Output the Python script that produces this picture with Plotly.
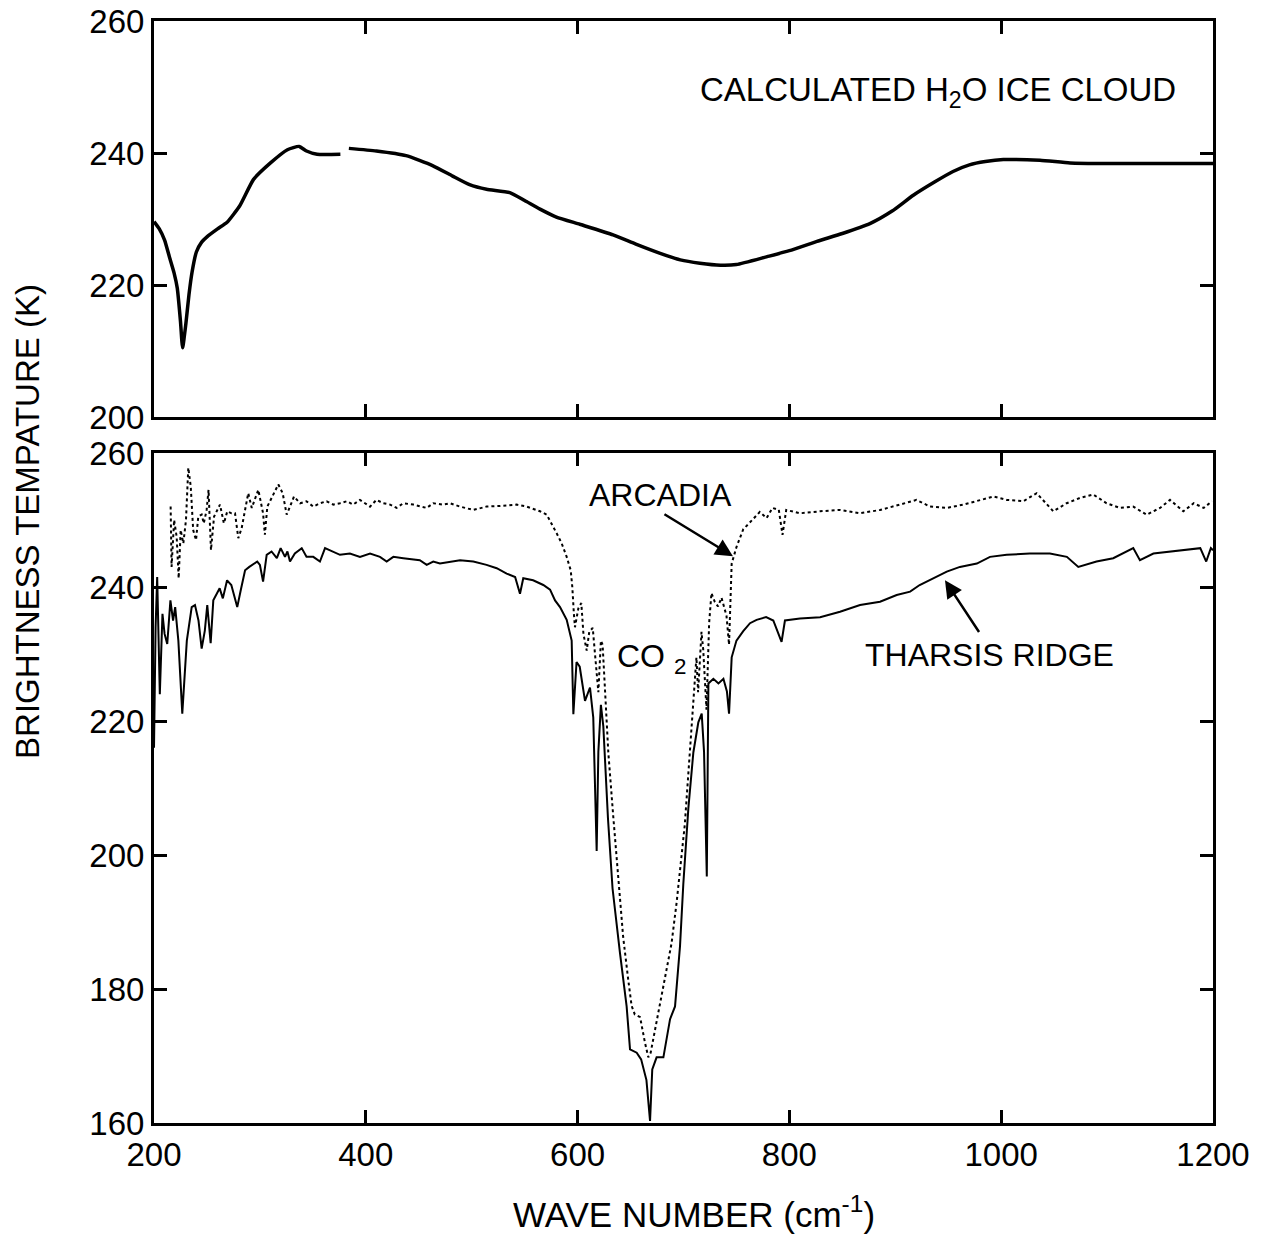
import plotly.graph_objects as go

# ---- Calculated H2O ice cloud spectrum (upper panel) ----
cloud_wn = [200, 205, 210, 215, 219, 222, 225, 227, 230, 233, 236, 240, 245, 250, 260,
            269, 281, 294, 310, 326, 337, 344, 354, 376, None, 384, 410, 438, 463, 482,
            498, 514, 536, 550, 564.5, 580, 602, 633.5, 655, 678, 697, 715.5, 735, 750,
            779, 800, 826, 850, 876, 897, 917, 937, 954.5, 970, 985, 1002, 1036.6, 1065,
            1100, 1150, 1200]
cloud_tb = [229.6, 228.5, 226.8, 224.0, 221.8, 219.5, 214.5, 210.5, 214.0, 218.5, 222.0,
            225.0, 226.5, 227.3, 228.5, 229.5, 232.0, 236.0, 238.5, 240.5, 241.0, 240.3,
            239.8, 239.8, None, 240.7, 240.3, 239.6, 238.1, 236.5, 235.2, 234.5, 234.0,
            232.8, 231.5, 230.3, 229.2, 227.6, 226.2, 224.8, 223.8, 223.3, 223.0, 223.1,
            224.3, 225.2, 226.6, 227.8, 229.3, 231.2, 233.6, 235.6, 237.2, 238.2, 238.7,
            239.0, 238.9, 238.5, 238.4, 238.4, 238.4]

# ---- Observed spectrum: Tharsis Ridge (solid) ----
tharsis_wn = [200, 201.5, 203, 205.5, 208, 210, 212.5, 215.5, 218, 220, 223, 226.7, 231,
              235.6, 238.7, 242, 245, 248, 250.3, 253.5, 256, 259, 262, 265, 269, 273,
              278.6, 282, 286, 290, 294, 297.5, 300, 303, 306.4, 311, 316, 319.6, 323.7,
              326, 328.4, 333, 339.5, 344, 350.4, 356.7, 361.5, 367.8, 375.6, 385, 394.5,
              404, 413.4, 419.7, 426, 435.4, 444.8, 451, 457.5, 463.7, 470, 479.5, 489,
              501.5, 514, 523.6, 533, 541, 545.6, 548.7, 558, 567.6, 574, 578.7, 583.4,
              589.7, 594.4, 596, 599, 602, 607, 611.7, 614.8, 618, 619.6, 622, 624.3,
              628.7, 633, 640, 646.3, 649.5, 655.8, 660, 665, 668.4, 670.5, 674.6, 681,
              687.3, 692, 696.7, 699.8, 704.6, 709.3, 714, 717.2, 719.4, 722, 723.5,
              728.2, 733, 737.7, 741, 743, 745.5, 750, 756.4, 762.8, 769, 778, 784.8,
              792.6, 795.8, 810, 829, 847.8, 866.7, 885.6, 901.3, 914, 923, 936, 948.6,
              961, 977, 989.4, 1005.2, 1027, 1046, 1062, 1072.8, 1090, 1105.8, 1124.7,
              1131, 1143.7, 1159.4, 1175, 1188, 1193.6, 1198, 1200]
tharsis_tb = [216.0, 234.0, 241.5, 224.0, 236.0, 233.0, 231.5, 238.0, 235.0, 237.0, 232.0,
              221.1, 232.0, 237.0, 237.3, 235.0, 230.8, 233.5, 237.3, 231.6, 238.0, 239.0,
              239.8, 238.3, 241.0, 240.3, 237.0, 239.6, 242.5, 243.0, 243.5, 243.8, 243.3,
              240.8, 244.8, 245.3, 244.3, 245.8, 244.5, 245.3, 243.8, 245.0, 245.8, 244.5,
              244.5, 243.8, 245.8, 245.3, 244.8, 245.0, 244.5, 245.0, 244.5, 243.8, 244.5,
              244.3, 244.1, 244.0, 243.3, 243.8, 243.5, 243.8, 244.0, 243.8, 243.3, 242.8,
              242.0, 241.5, 239.0, 241.3, 241.0, 240.3, 239.6, 238.0, 237.0, 235.1, 232.0,
              221.0, 228.8, 228.1, 223.0, 225.0, 220.5, 200.6, 215.4, 222.4, 219.2, 205.4,
              195.0, 185.4, 177.4, 171.0, 170.5, 169.5, 166.4, 160.3, 168.0, 169.8, 169.8,
              175.5, 177.4, 186.4, 195.6, 207.0, 215.3, 219.8, 221.1, 215.4, 196.8, 225.6,
              226.3, 225.6, 226.3, 224.4, 221.1, 229.5, 232.0, 233.4, 234.6, 235.1, 235.5,
              235.0, 231.8, 235.0, 235.3, 235.5, 236.3, 237.3, 237.8, 238.8, 239.3, 240.3,
              241.3, 242.3, 243.0, 243.5, 244.5, 244.8, 245.0, 245.0, 244.5, 243.0, 243.8,
              244.3, 245.8, 244.0, 245.0, 245.3, 245.5, 245.8, 243.8, 245.8, 245.5]

# ---- Observed spectrum: Arcadia (dotted) ----
arcadia_wn = [215.7, 216.6, 219, 221.4, 223.3, 225.2, 227.7, 230.2, 232.4, 234.7, 237,
              239.7, 241.8, 245, 247, 249.7, 251.5, 253.8, 256.7, 259.2, 262.3, 266,
              269.2, 273.2, 276.5, 279.6, 282.8, 286, 289, 292.3, 296, 298.5, 303, 304.7,
              307, 311, 317.4, 321.5, 325.3, 328.4, 332.2, 338, 344, 350.4, 356.8, 363,
              369.3, 375.6, 382, 388, 394.5, 404, 410, 416.5, 423, 429, 435.4, 444.8,
              457.5, 463.7, 473, 479.5, 489, 501.5, 514, 526.7, 542.4, 552, 564.5, 570.8,
              575.5, 580.3, 585, 589.7, 593.5, 595, 596.5, 597.5, 600.7, 603.5, 605.5,
              608.6, 611, 614.3, 616.7, 619.6, 622, 623.6, 626, 629, 633.7, 638.5, 643,
              647.8, 651, 654, 659, 663.6, 666.8, 669, 673, 677.8, 684, 688.7, 693.5, 698,
              701.2, 704.3, 707.5, 709.7, 712.2, 713.8, 717, 718.6, 721.7, 724.2, 726.4,
              729.5, 732.6, 735.9, 740.6, 743, 745.5, 750.1, 756.4, 764.3, 772, 778.5, 784,
              790, 793.5, 797, 810, 829, 847.8, 866.7, 885.6, 904.4, 920, 932.8, 948.6,
              964.3, 977, 992.7, 1005.2, 1020.9, 1033.5, 1049.2, 1061.8, 1074.4, 1087,
              1099.5, 1112, 1124.6, 1137.4, 1150, 1159.4, 1172, 1181.8, 1191.2, 1199]
arcadia_tb = [252.0, 243.0, 250.0, 247.5, 241.3, 248.5, 246.5, 250.0, 257.8, 255.0, 248.5,
              247.0, 250.5, 250.8, 249.5, 251.5, 254.5, 245.5, 250.5, 251.3, 252.3, 249.5,
              251.3, 251.0, 251.0, 247.3, 248.8, 251.5, 254.0, 251.8, 253.5, 254.5, 251.0,
              247.8, 252.0, 253.3, 255.3, 254.0, 250.8, 252.0, 253.5, 252.5, 252.8, 252.0,
              252.5, 252.8, 252.3, 252.5, 252.8, 252.3, 253.0, 252.0, 253.0, 252.5, 252.3,
              251.8, 252.5, 252.3, 251.8, 252.5, 252.3, 252.5, 252.0, 251.5, 252.0, 252.1,
              252.3, 252.0, 251.3, 250.8, 249.5, 248.0, 246.5, 244.5, 242.5, 240.0, 236.0,
              234.0, 236.8, 237.6, 233.0, 230.5, 233.3, 233.9, 229.5, 224.3, 232.0, 231.4,
              224.3, 215.3, 205.7, 196.1, 187.8, 181.4, 177.5, 176.2, 175.8, 172.0, 169.8,
              170.5, 173.8, 177.5, 182.5, 186.8, 192.9, 199.4, 204.5, 211.5, 218.5, 223.6,
              229.5, 224.3, 233.3, 230.7, 221.7, 234.6, 239.1, 237.8, 237.1, 238.4, 235.7,
              231.4, 243.5, 246.0, 248.6, 249.9, 251.2, 250.3, 251.8, 251.5, 247.8, 251.5,
              251.0, 251.3, 251.5, 251.0, 251.5, 252.3, 253.0, 252.0, 251.8, 252.3, 252.8,
              253.5, 253.0, 252.8, 254.0, 251.3, 252.5, 253.3, 253.8, 252.5, 251.8, 252.0,
              250.8, 251.8, 253.0, 251.3, 252.5, 251.8, 252.8]

# ---- Axis ticks ----
x_ticks = [200, 400, 600, 800, 1000, 1200]
upper_y_ticks = [200, 220, 240, 260]
lower_y_ticks = [160, 180, 200, 220, 240, 260]

FONT = "Liberation Sans, Arial, Helvetica, sans-serif"
INK = "black"

fig = go.Figure()

fig.add_trace(go.Scatter(x=cloud_wn, y=cloud_tb, mode="lines", connectgaps=False,
                         line=dict(color=INK, width=3.5, shape="spline", smoothing=0.5),
                         xaxis="x2", yaxis="y2", showlegend=False, hoverinfo="skip"))
fig.add_trace(go.Scatter(x=arcadia_wn, y=arcadia_tb, mode="lines",
                         line=dict(color=INK, width=2, dash="3px,3px"),
                         showlegend=False, hoverinfo="skip"))
fig.add_trace(go.Scatter(x=tharsis_wn, y=tharsis_tb, mode="lines",
                         line=dict(color=INK, width=2),
                         showlegend=False, hoverinfo="skip"))

axis_common = dict(showline=True, linecolor=INK, linewidth=3, mirror="ticks",
                   ticks="inside", ticklen=13, tickwidth=3, tickcolor=INK,
                   showgrid=False, zeroline=False, automargin=False,
                   ticklabeloverflow="allow",
                   tickfont=dict(family=FONT, size=33, color=INK))

# plot area spans pixel rows 21..1123; panels split at 417 / 453
TOP, BOTTOM = 21, 1123
SPAN = BOTTOM - TOP
lower_top = (BOTTOM - 453) / SPAN
upper_bottom = (BOTTOM - 417) / SPAN

fig.update_layout(
    width=1267, height=1234,
    margin=dict(l=154, r=54, t=TOP, b=1234 - BOTTOM),
    paper_bgcolor="white", plot_bgcolor="white",
    font=dict(family=FONT, size=32, color=INK),
    xaxis=dict(range=[200, 1200], tickvals=x_ticks, domain=[0, 1], anchor="y",
               **axis_common),
    yaxis=dict(range=[160, 260], tickvals=lower_y_ticks, domain=[0, lower_top],
               anchor="x", **axis_common),
    xaxis2=dict(range=[200, 1200], tickvals=x_ticks, domain=[0, 1], anchor="y2",
                showticklabels=False, **axis_common),
    yaxis2=dict(range=[200, 260], tickvals=upper_y_ticks,
                domain=[upper_bottom, 1], anchor="x2", **axis_common),
)

annotations = [
    # axis titles
    dict(text="BRIGHTNESS TEMPATURE (K)", xref="paper", yref="paper",
         x=-0.12, y=(BOTTOM - 521) / SPAN, textangle=-90, showarrow=False,
         xanchor="center", yanchor="middle", font=dict(size=33)),
    dict(text="WAVE NUMBER (cm<sup>-1</sup>)", xref="paper", yref="paper",
         x=(694 - 154) / 1059, y=(BOTTOM - 1212) / SPAN, showarrow=False,
         xanchor="center", yanchor="middle", font=dict(size=35)),
    # panel labels
    dict(text="CALCULATED H<sub>2</sub>O ICE CLOUD", xref="x2", yref="y2",
         x=940, y=249.2, showarrow=False, xanchor="center", yanchor="middle",
         font=dict(size=33)),
    dict(text="ARCADIA", xref="x", yref="y", x=678, y=253.7, showarrow=False,
         xanchor="center", yanchor="middle", font=dict(size=32)),
    dict(text="CO <sub>2</sub>", xref="x", yref="y", x=670, y=229.3, showarrow=False,
         xanchor="center", yanchor="middle", font=dict(size=32)),
    dict(text="THARSIS RIDGE", xref="x", yref="y", x=989.4, y=229.8, showarrow=False,
         xanchor="center", yanchor="middle", font=dict(size=32)),
    # pointer arrows
    dict(text="", xref="x", yref="y", axref="x", ayref="y",
         x=746.7, y=244.6, ax=680.6, ay=251.0, showarrow=True,
         arrowhead=2, arrowsize=1.4, arrowwidth=2.5, arrowcolor=INK, standoff=0),
    dict(text="", xref="x", yref="y", axref="x", ayref="y",
         x=946.9, y=241.0, ax=980, ay=233.05, showarrow=True,
         arrowhead=2, arrowsize=1.4, arrowwidth=2.5, arrowcolor=INK, standoff=0),
]
fig.update_layout(annotations=annotations)

fig.write_html("out.html", config={"displayModeBar": False})
